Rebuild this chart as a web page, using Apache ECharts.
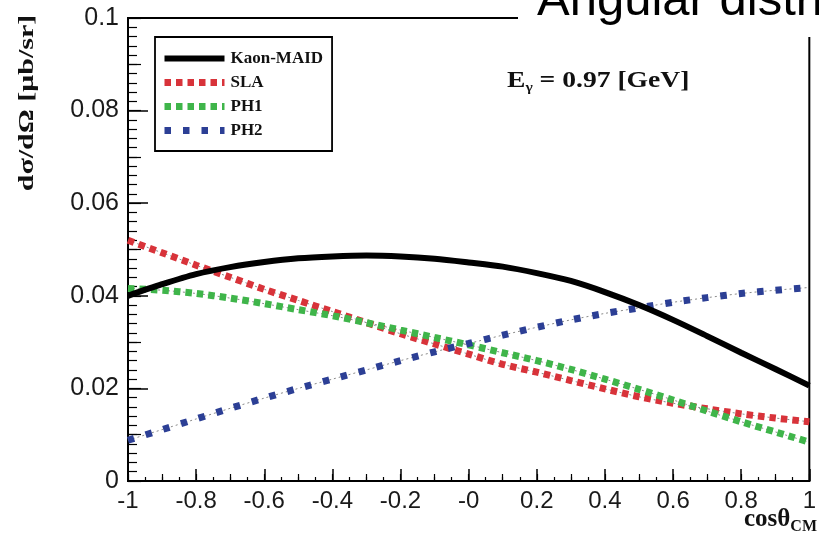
<!DOCTYPE html>
<html>
<head>
<meta charset="utf-8">
<script src="https://cdn.jsdelivr.net/npm/echarts@6/dist/echarts.min.js"></script>
<style>
  html, body { margin: 0; padding: 0; background: #fff; }
  #chart { width: 819px; height: 538px; }
</style>
</head>
<body>
<div id="chart"></div>
<script>
// cos(theta_CM) sampling points
const cosTheta = [-1, -0.9, -0.8, -0.7, -0.6, -0.5, -0.4, -0.3, -0.2, -0.1, 0,
                  0.1, 0.2, 0.3, 0.4, 0.5, 0.6, 0.7, 0.8, 0.9, 1];

// differential cross sections dσ/dΩ [μb/sr] at E_γ = 0.97 GeV
const kaonMaid = [0.0400, 0.0425, 0.0447, 0.0462, 0.0473, 0.0481, 0.0485, 0.0487, 0.0485, 0.0480, 0.0472,
                  0.0463, 0.0449, 0.0432, 0.0408, 0.0380, 0.0348, 0.0313, 0.0277, 0.0242, 0.0206];
const sla      = [0.0520, 0.0493, 0.0466, 0.0440, 0.0414, 0.0390, 0.0366, 0.0342, 0.0318, 0.0296, 0.0274,
                  0.0252, 0.0235, 0.0217, 0.0199, 0.0182, 0.0168, 0.0156, 0.0145, 0.0136, 0.0128];
const ph1      = [0.0416, 0.0412, 0.0405, 0.0395, 0.0383, 0.0370, 0.0357, 0.0342, 0.0326, 0.0310, 0.0294,
                  0.0277, 0.0260, 0.0241, 0.0220, 0.0198, 0.0175, 0.0151, 0.0128, 0.0106, 0.0084];
const ph2      = [0.0088, 0.0111, 0.0134, 0.0157, 0.0179, 0.0200, 0.0220, 0.0240, 0.0260, 0.0279, 0.0297,
                  0.0315, 0.0332, 0.0348, 0.0362, 0.0374, 0.0386, 0.0396, 0.0405, 0.0412, 0.0418];

const xTickLabels = ['-1', '-0.8', '-0.6', '-0.4', '-0.2', '-0', '0.2', '0.4', '0.6', '0.8', '1'];
const yTickLabels = ['0', '0.02', '0.04', '0.06', '0.08', '0.1'];

const X_MIN = -1, X_MAX = 1, X_STEP = 0.2;
const Y_MIN = 0, Y_MAX = 0.1, Y_STEP = 0.02;

const RED = '#d8333a', GREEN = '#3fb54a', BLUE = '#2c3f95';
const DASH_DENSE = [6.5, 5], DASH_SPARSE = [6.5, 12];

const pairs = ys => cosTheta.map((x, i) => [x, ys[i]]);

const SERIF = '"Liberation Serif", "Times New Roman", serif';
const SANS = '"Liberation Sans", Arial, sans-serif';

const dotted = (name, ys, color, dash) => ({
  name: name,
  type: 'line',
  data: pairs(ys),
  smooth: 0.3,
  symbol: 'none',
  z: 3,
  lineStyle: { color: color, width: 7, type: dash, cap: 'butt' }
});

// thin grey guide drawn beneath each dotted curve
const guide = (ys) => ({
  type: 'line',
  data: pairs(ys),
  smooth: 0.3,
  symbol: 'none',
  silent: true,
  z: 2,
  lineStyle: { color: '#8a8a8a', width: 1, type: [2, 3] }
});

const option = {
  animation: false,
  backgroundColor: '#fff',
  title: {
    text: 'Angular distribution',
    left: 518,
    top: -23,
    padding: [0, 0, 11, 19],
    backgroundColor: '#fff',
    textStyle: { fontFamily: SANS, fontSize: 49, fontWeight: 'normal', color: '#000' }
  },
  grid: {
    left: 128, right: 5, top: 18, bottom: 57,
    show: true, borderColor: '#000', borderWidth: 2, backgroundColor: 'transparent'
  },
  legend: {
    orient: 'vertical',
    left: 155, top: 37,
    padding: [13, 9, 12, 6],
    itemGap: 7,
    itemWidth: 60, itemHeight: 8,
    backgroundColor: '#fff',
    borderColor: '#000', borderWidth: 1.8,
    itemStyle: { opacity: 0 },
    textStyle: { fontFamily: SERIF, fontWeight: 'bold', fontSize: 17, color: '#111', padding: [0, 0, 0, 1] },
    data: [
      { name: 'Kaon-MAID', lineStyle: { color: '#000', width: 6, type: 'solid' } },
      { name: 'SLA', lineStyle: { color: RED, width: 7, type: DASH_DENSE, cap: 'butt' } },
      { name: 'PH1', lineStyle: { color: GREEN, width: 7, type: DASH_DENSE, cap: 'butt' } },
      { name: 'PH2', lineStyle: { color: BLUE, width: 7, type: DASH_SPARSE, cap: 'butt' } }
    ]
  },
  xAxis: [{
    type: 'value', min: X_MIN, max: X_MAX, interval: X_STEP,
    axisLine: { onZero: false, lineStyle: { color: '#000', width: 2 } },
    axisTick: { inside: true, length: 12, lineStyle: { color: '#000', width: 1.5 } },
    minorTick: { show: true, splitNumber: 4, length: 4, lineStyle: { color: '#000', width: 1.2 } },
    splitLine: { show: false },
    axisLabel: {
      margin: 8,
      fontFamily: SANS, fontSize: 24, color: '#1a1a1a',
      formatter: v => xTickLabels[Math.round((v - X_MIN) / X_STEP)]
    }
  }, {
    type: 'value', min: X_MIN, max: X_MAX, interval: 0.1, position: 'bottom',
    axisLine: { show: false, onZero: false },
    axisTick: { inside: true, length: 7, lineStyle: { color: '#000', width: 1.2 } },
    axisLabel: { show: false },
    splitLine: { show: false }
  }],
  yAxis: [{
    type: 'value', min: Y_MIN, max: Y_MAX, interval: Y_STEP, position: 'left',
    axisLine: { show: true, onZero: false, lineStyle: { color: '#000', width: 2 } },
    axisTick: { show: true, inside: true, length: 20, lineStyle: { color: '#000', width: 1.5 } },
    minorTick: { show: true, splitNumber: 10, length: 9, lineStyle: { color: '#000', width: 1.2 } },
    splitLine: { show: false },
    axisLabel: {
      margin: 9,
      fontFamily: SANS, fontSize: 25, color: '#1a1a1a',
      formatter: v => yTickLabels[Math.round((v - Y_MIN) / Y_STEP)]
    }
  }, {
    type: 'value', min: Y_MIN, max: Y_MAX, interval: 0.01, position: 'left',
    axisLine: { show: false, onZero: false },
    axisTick: { show: true, inside: true, length: 13, lineStyle: { color: '#000', width: 1.2 } },
    axisLabel: { show: false },
    splitLine: { show: false }
  }],
  graphic: [
    {
      type: 'text',
      x: 28, y: 103,
      rotation: Math.PI / 2,
      scaleX: 1.5,
      style: {
        text: 'dσ/dΩ [μb/sr]',
        font: 'bold 20px ' + SERIF,
        fill: '#111',
        align: 'center', verticalAlign: 'middle'
      }
    },
    {
      type: 'text',
      x: 507, y: 94,
      scaleX: 1.2,
      style: {
        text: '{b|E}{s|γ}{b| = 0.97 [GeV]}',
        fill: '#111',
        verticalAlign: 'bottom',
        rich: {
          b: { font: 'bold 23px ' + SERIF, fill: '#111' },
          s: { font: 'bold 13px ' + SERIF, fill: '#111', padding: [13, 0, 0, 0] }
        }
      }
    },
    {
      type: 'text',
      right: 2, top: 507,
      style: {
        text: '{b|cosθ}{s|CM}',
        fill: '#111',
        rich: {
          b: { font: 'bold 25px ' + SERIF, fill: '#111' },
          s: { font: 'bold 16px ' + SERIF, fill: '#111', padding: [15, 0, 0, 0] }
        }
      }
    }
  ],
  series: [
    {
      name: 'Kaon-MAID',
      type: 'line',
      data: pairs(kaonMaid),
      smooth: 0.3,
      symbol: 'none',
      z: 4,
      lineStyle: { color: '#000', width: 6 }
    },
    guide(sla),
    guide(ph1),
    guide(ph2),
    dotted('SLA', sla, RED, DASH_DENSE),
    dotted('PH1', ph1, GREEN, DASH_DENSE),
    dotted('PH2', ph2, BLUE, DASH_SPARSE)
  ]
};

const chart = echarts.init(document.getElementById('chart'), null, { renderer: 'canvas' });
chart.setOption(option);
</script>
</body>
</html>
